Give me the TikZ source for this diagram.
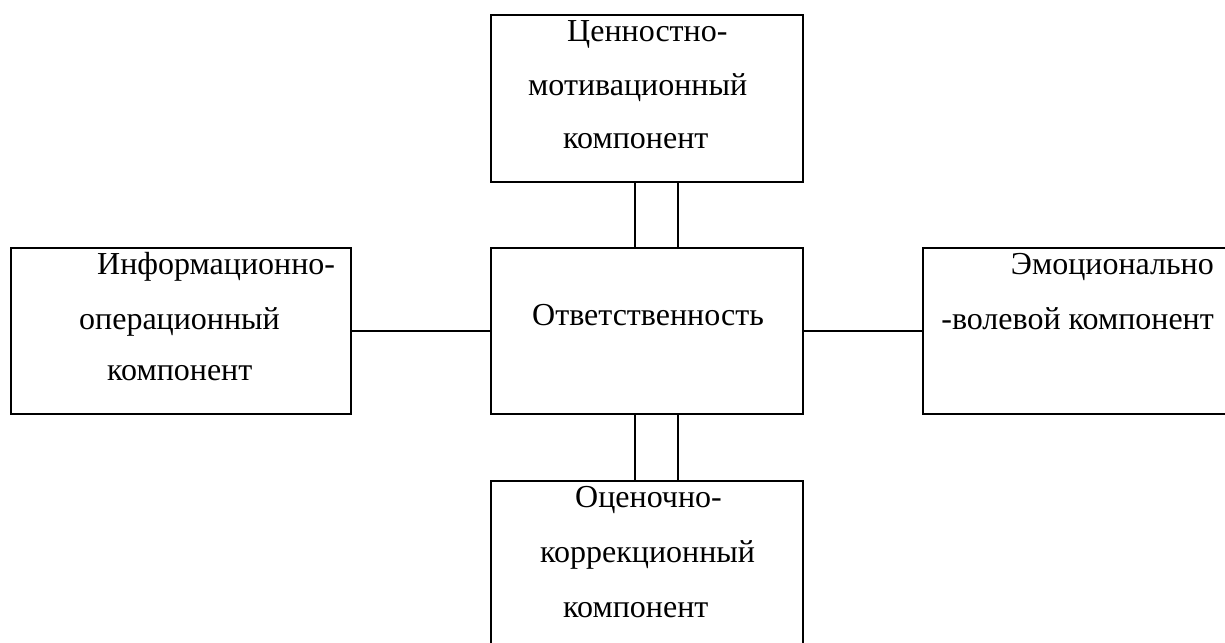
\documentclass[tikz,border=0pt]{standalone}
\usepackage{fontspec}
\setmainfont{Liberation Serif}
\begin{document}
\begin{tikzpicture}[x=1pt,y=-1pt,
  box/.style={draw=black,line width=2.6pt,inner sep=0pt,outer sep=0pt,rectangle},
  conn/.style={draw=black,line width=2.6pt},
  txt/.style={inner sep=0pt,anchor=mid west,font=\fontsize{32}{38}\selectfont}]
\useasboundingbox (0,0) rectangle (1225,642);
\clip (0,0) rectangle (1225,642);
% boxes
\node[box,minimum width=312,minimum height=167] (top) at (647,98.5) {};
\node[box,minimum width=312,minimum height=166] (ctr) at (647,331) {};
\node[box,minimum width=340,minimum height=166] (lft) at (181,331) {};
\node[box,minimum width=320,minimum height=166] (rgt) at (1083,331) {};
\node[box,minimum width=312,minimum height=190] (bot) at (647,576) {};
% texts
\node[txt] (t1) at (567,39) {Ценностно-};
\node[txt] (t2) at (528,93) {мотивационный};
\node[txt] (t3) at (563,146) {компонент};
\node[txt] (c1) at (532,323) {Ответственность};
\node[txt] (l1) at (97,272) {Информационно-};
\node[txt] (l2) at (79,327) {операционный};
\node[txt] (l3) at (107,378) {компонент};
\node[txt,anchor=mid east] (r1) at (1214,272) {Эмоционально};
\node[txt,anchor=mid east] (r2) at (1214,327) {-волевой компонент};
\node[txt] (b1) at (575,505) {Оценочно-};
\node[txt] (b2) at (540,560) {коррекционный};
\node[txt] (b3) at (563,615) {компонент};
% connectors
\draw[conn] ([xshift=144pt]top.south west) -- ([xshift=144pt]ctr.north west);
\draw[conn] ([xshift=187pt]top.south west) -- ([xshift=187pt]ctr.north west);
\draw[conn] ([xshift=144pt]ctr.south west) -- ([xshift=144pt]bot.north west);
\draw[conn] ([xshift=187pt]ctr.south west) -- ([xshift=187pt]bot.north west);
\draw[conn] (lft.east) -- (ctr.west);
\draw[conn] (ctr.east) -- (rgt.west);
\end{tikzpicture}
\end{document}
